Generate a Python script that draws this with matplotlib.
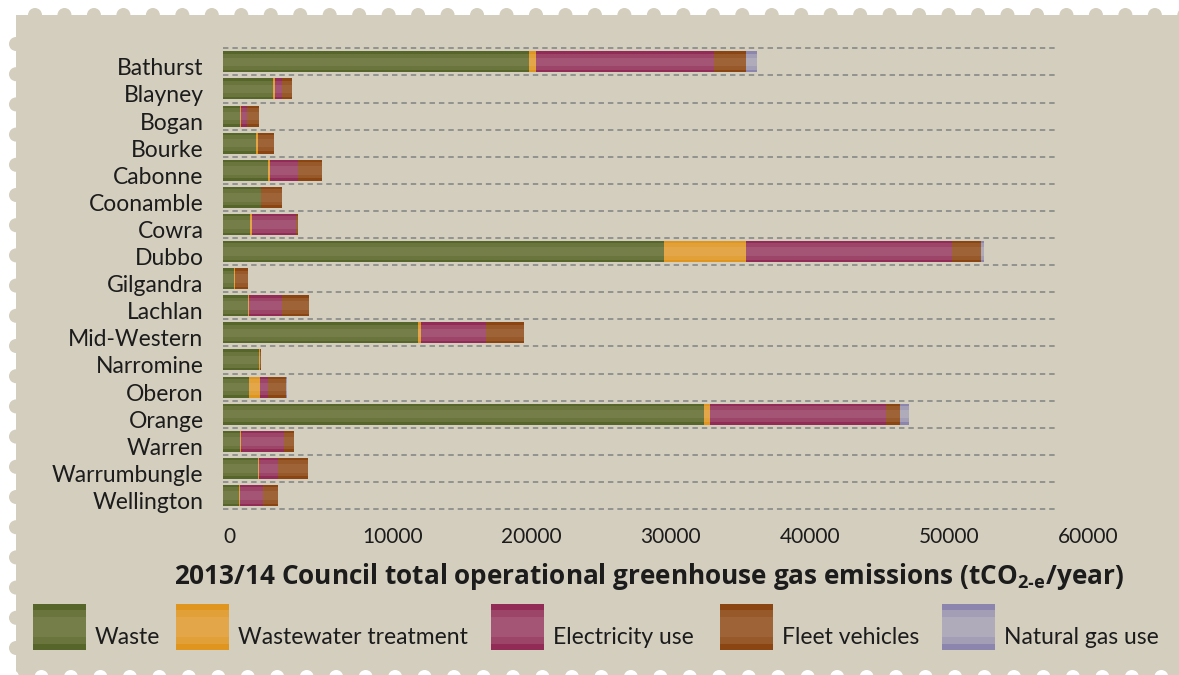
import matplotlib
matplotlib.use("Agg")
import matplotlib.pyplot as plt
import numpy as np
from matplotlib.patches import Rectangle, Circle
from matplotlib.transforms import ScaledTranslation

# 2013/14 council operational emissions, tCO2-e/year
councils = ["Bathurst", "Blayney", "Bogan", "Bourke", "Cabonne", "Coonamble", "Cowra",
            "Dubbo", "Gilgandra", "Lachlan", "Mid-Western", "Narromine", "Oberon",
            "Orange", "Warren", "Warrumbungle", "Wellington"]
waste = [22000, 3600, 1240, 2370, 3250, 2750, 1950, 31700, 800, 1810, 14000, 2580, 1870,
         34580, 1240, 2530, 1150]
wastewater = [500, 140, 50, 160, 130, 0, 140, 5880, 50, 60, 230, 90, 800, 430, 50, 50, 90]
electricity = [12780, 470, 410, 0, 1990, 0, 3190, 14810, 0, 2340, 4650, 0, 600, 12630,
               3080, 1360, 1670]
fleet = [2320, 740, 880, 1130, 1760, 1490, 110, 2100, 930, 1980, 2760, 50, 1270, 1030,
         740, 2170, 1050]
natural_gas = [770, 0, 0, 0, 0, 0, 0, 220, 0, 0, 0, 0, 60, 670, 0, 0, 0]

series_names = ["Waste", "Wastewater treatment", "Electricity use", "Fleet vehicles",
                "Natural gas use"]
x_ticks = [0, 10000, 20000, 30000, 40000, 50000, 60000]

# (edge colour, centre colour) for the shaded bars
shades = [("#56652a", "#7e8550"), ("#e0951e", "#e4ab55"), ("#922b56", "#a95f7c"),
          ("#8a4513", "#a46d42"), ("#8c85ae", "#bab6bf")]

W, H = 1179, 675
BEIGE = "#d3cebe"
TEXT = "#1c1c1c"

plt.rcParams["font.family"] = ["Lato", "DejaVu Sans"]
plt.rcParams["mathtext.fontset"] = "custom"
plt.rcParams["mathtext.rm"] = "Open Sans"
plt.rcParams["mathtext.bf"] = "Open Sans:bold"

fig = plt.figure(figsize=(W / 100, H / 100), dpi=100, facecolor="white")

# stamp-like backdrop in pixel coordinates
bg = fig.add_axes([0, 0, 1, 1])
bg.set_xlim(0, W)
bg.set_ylim(H, 0)
bg.axis("off")
bg.add_patch(Rectangle((16, 15), W - 16, H - 15, color=BEIGE, lw=0))
for cx in np.arange(35, W + 10, 29.47):
    bg.add_patch(Circle((cx, 15), 7, color=BEIGE, lw=0))
for cy in np.arange(44, H - 5, 30.2):
    bg.add_patch(Circle((16, cy), 7, color=BEIGE, lw=0))
for cx in np.arange(12, W + 10, 29.47):
    bg.add_patch(Circle((cx, H + 2), 7, color="white", lw=0))

ax = fig.add_axes([223 / W, 1 - 509 / H, (1057.7 - 223) / W, (509 - 48.3) / H])
ax.set_facecolor("none")
ax.set_zorder(1)

y = np.arange(len(councils))
data = [waste, wastewater, electricity, fleet, natural_gas]
left = np.zeros(len(councils))
for vals, (dark, light) in zip(data, shades):
    vals = np.array(vals, dtype=float)
    ax.barh(y, vals, left=left, height=0.775, color=dark, lw=0, zorder=2)
    ax.barh(y, vals, left=left, height=0.6, color=light, alpha=0.5, lw=0, zorder=2)
    ax.barh(y, vals, left=left, height=0.32, color=light, alpha=0.6, lw=0, zorder=2)
    left += vals

for k in range(len(councils) + 1):
    ax.axhline(k - 0.5, color="#8d8d8a", lw=1.3, ls=(0, (3, 2.2)), zorder=1, clip_on=False)

ax.set_xlim(0, 60000)
ax.set_ylim(len(councils) - 0.5, -0.5)
for s in ax.spines.values():
    s.set_visible(False)

ax.set_xticks(x_ticks)
ax.set_xticklabels([str(t) for t in x_ticks], ha="left", fontsize=15, color=TEXT)
ax.tick_params(axis="x", length=0, pad=13)
ax.set_yticks(y)
ax.set_yticklabels(councils, fontsize=16.5, color=TEXT)
ax.tick_params(axis="y", length=0, pad=14)
shift = ScaledTranslation(0, -0.05, fig.dpi_scale_trans)
for lab in ax.get_yticklabels():
    lab.set_transform(lab.get_transform() + shift)

fig.text(649 / W, 1 - 577 / H,
         "2013/14 Council total operational greenhouse gas emissions (tCO$_{\\mathbf{2\u2010e}}$/year)",
         ha="center", va="center", fontsize=18.8, weight="bold", family="Open Sans", color=TEXT)

# legend drawn as shaded swatches
swatch_left = [33, 176, 491, 720, 942]
for x0, name, (dark, light) in zip(swatch_left, series_names, shades):
    bg.add_patch(Rectangle((x0, 604), 53, 46, color=dark, lw=0))
    bg.add_patch(Rectangle((x0, 610), 53, 34, color=light, alpha=0.5, lw=0))
    bg.add_patch(Rectangle((x0, 617), 53, 20, color=light, alpha=0.6, lw=0))
    bg.text(x0 + 62, 637, name, ha="left", va="center", fontsize=16.5, color=TEXT)

fig.savefig("out.png", dpi=100, facecolor="white")
